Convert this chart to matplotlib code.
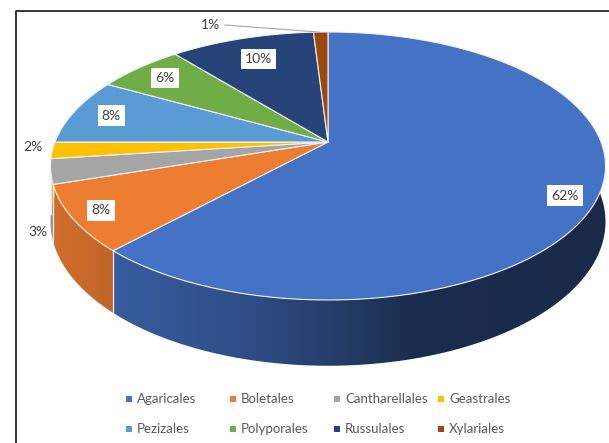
import numpy as np
import matplotlib.pyplot as plt
from matplotlib.patches import Polygon
from matplotlib.colors import to_rgb

plt.rcParams['font.family'] = ['Lato', 'DejaVu Sans']

# data
names = ["Agaricales", "Boletales", "Cantharellales", "Geastrales",
         "Pezizales", "Polyporales", "Russulales", "Xylariales"]
values = [62, 8, 3, 2, 8, 6, 10, 1]
colors = ["#4472C4", "#ED7D31", "#A5A5A5", "#FFC000",
          "#5B9BD5", "#70AD47", "#264478", "#9E480E"]

# label placement (radius fraction, boxed or not)
label_r = [0.88, 0.9, 1.0, 1.07, 0.85, 0.85, 0.78, 1.0]
label_box = [True, True, False, False, True, True, True, False]

# perspective pie geometry (pixels)
CX, CY = 328, 142
A, B, G = 273, 129.7, 0.179
H = 54


def proj(theta, r=1.0, drop=0.0):
    t = np.radians(theta)
    u = r * np.sin(t)
    v = r * np.cos(t)
    w = 1 + G * v
    return CX + A * u / w, CY - B * v / w + drop / w


def side_factor(x):
    # lighting across the side wall: lighter on the left, dark on the right
    return np.interp(x, [40, 120, 250, 420, 620], [0.9, 0.8, 0.68, 0.39, 0.37])


fig = plt.figure(figsize=(6.09, 4.43), dpi=100)
ax = fig.add_axes([0, 0, 1, 1])
ax.set_xlim(0, 609)
ax.set_ylim(443, 0)
ax.axis('off')

total = sum(values)
bounds = np.concatenate([[0], np.cumsum(values) / total * 360])

# side walls (gradient images clipped to the wall outline)
xs = np.arange(0, 610)
for i in range(len(values)):
    t1, t2 = max(bounds[i], 80), min(bounds[i + 1], 280)
    if t2 <= t1:
        continue
    arc = np.linspace(t1, t2, 200)
    top = [proj(t) for t in arc]
    bot = [proj(t, drop=H) for t in arc[::-1]]
    poly = Polygon(top + bot, closed=True, facecolor='none', edgecolor='none')
    ax.add_patch(poly)
    base = np.array(to_rgb(colors[i]))
    grad = np.clip(side_factor(xs)[:, None] * base[None, :], 0, 1)
    img = np.repeat(grad[None, :, :], 2, axis=0)
    im = ax.imshow(img, extent=(0, 610, 443, 0), aspect='auto',
                   interpolation='bilinear', zorder=1)
    im.set_clip_path(poly)
    if 90 < bounds[i + 1] < 270:
        x0, y0 = proj(bounds[i + 1])
        x1, y1 = proj(bounds[i + 1], drop=H)
        ax.plot([x0, x1], [y0, y1], color='#E8E8E8', lw=0.9, zorder=2)

# top faces
for i in range(len(values)):
    t1, t2 = bounds[i], bounds[i + 1]
    arc = np.linspace(t1, t2, max(3, int((t2 - t1) * 2)))
    pts = [(CX, CY)] + [proj(t) for t in arc]
    ax.add_patch(Polygon(pts, closed=True, facecolor=colors[i], zorder=3,
                         edgecolor='#F2F2F2', lw=0.8, joinstyle='round'))

# labels
for i, v in enumerate(values):
    mid = (bounds[i] + bounds[i + 1]) / 2
    txt = f"{v}%"
    if i == 7:
        x, y = proj(mid)
        ax.plot([225, x - 2], [25, y], color='#A6A6A6', lw=0.8, zorder=4)
        ax.text(210, 25, txt, fontsize=10, color='#404040', ha='center',
                va='center', zorder=5)
        continue
    x, y = proj(mid, r=label_r[i])
    if i == 2:
        x, y = 38, 232
    if i == 3:
        y -= 4
    if i == 0:
        y += 9
    if label_box[i]:
        ax.text(x, y, txt, fontsize=10, color='#404040', ha='center', va='center',
                zorder=5,
                bbox=dict(boxstyle='square,pad=0.3', fc='white', ec='none'))
    else:
        ax.text(x, y, txt, fontsize=10, color='#404040', ha='center', va='center',
                zorder=5)

# legend
for i, name in enumerate(names):
    col, row = i % 4, i // 4
    lx = 129 + col * 104
    ly = 399 + row * 30
    ax.scatter([lx], [ly], marker='s', s=14, color=colors[i], lw=0, zorder=5)
    ax.text(lx + 8, ly, name, fontsize=9.5, color='#595959', va='center', ha='left')

# chart frame
ax.plot([15.5, 15.5, 609], [443, 11, 11], color='#262626', lw=1.3, zorder=6)

fig.savefig("out.png", dpi=100)
